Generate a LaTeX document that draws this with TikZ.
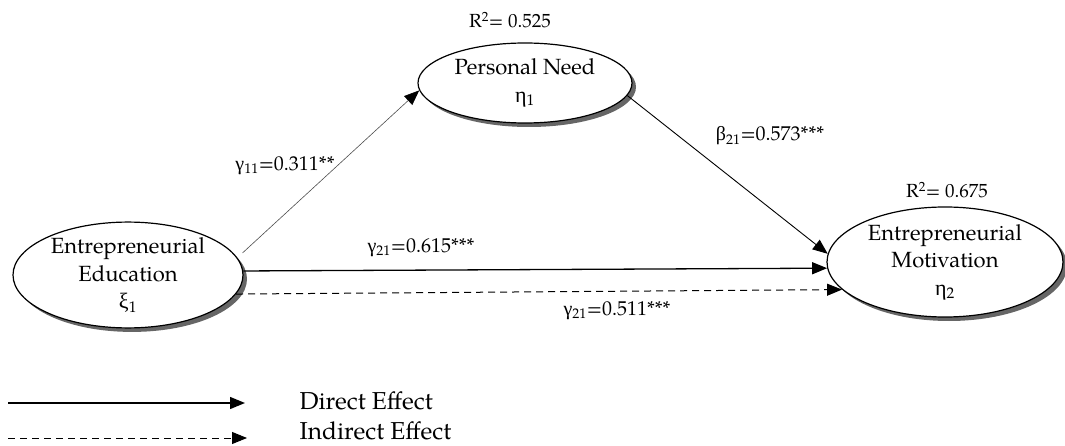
\documentclass[tikz,border=0pt]{standalone}
\usepackage{fontspec}
\setmainfont{TeX Gyre Pagella}
\newfontfamily\grk{Liberation Serif}
\usetikzlibrary{arrows.meta, shapes.geometric, shadows}

\begin{document}
\begin{tikzpicture}[x=1pt, y=-1pt,
latent/.style={draw, ellipse, line width=1.2pt, fill=white, inner sep=0pt, align=center, font=\fontsize{22}{27.5}\selectfont, drop shadow={shadow xshift=4pt, shadow yshift=-4pt, fill=black!60, opacity=1}},
arrow/.style={-{Triangle[length=15pt, width=12pt, color=black]}},
coef/.style={font=\fontsize{20}{24}\selectfont},
rsq/.style={font=\fontsize{19}{23}\selectfont},
legtext/.style={anchor=west, font=\fontsize{24.5}{28}\selectfont}
]
\useasboundingbox (0,0) rectangle (1065,446);

\node[latent, minimum width=230pt, minimum height=105pt] (edu) at (128,275) {Entrepreneurial\\Education\\{\grk ξ}\textsubscript{1}};
\node[latent, minimum width=214pt, minimum height=80pt] (need) at (525,83) {Personal Need\\{\grk η}\textsubscript{1}};
\node[latent, minimum width=236pt, minimum height=110pt] (mot) at (945,262) {Entrepreneurial\\Motivation\\{\grk η}\textsubscript{2}};

\node[rsq] (r1) at (510,20) {R\textsuperscript{2}= 0.525};
\node[rsq] (r2) at (947,190) {R\textsuperscript{2}= 0.675};

\draw[arrow, line width=0.6pt, black!70, shorten <=7pt] (edu.9) -- (need.184);
\draw[arrow, line width=0.9pt] (need.-7) -- (mot.176);
\draw[arrow, line width=1.3pt] (edu.2) -- (mot.183);
\draw[arrow, line width=1pt, dash pattern=on 7pt off 5pt] (edu.-10) -- (mot.195);

\node[coef] (g11) at (285,166) {{\grk γ}\textsubscript{11}=0.311**};
\node[coef] (b21) at (770,136) {{\grk β}\textsubscript{21}=0.573***};
\node[coef] (g21a) at (421,248) {{\grk γ}\textsubscript{21}=0.615***};
\node[coef] (g21b) at (617,311) {{\grk γ}\textsubscript{21}=0.511***};

\coordinate (d0) at (8,403);
\coordinate (d1) at (245,403);
\coordinate (i0) at (8,438);
\coordinate (i1) at (247,438);
\draw[arrow, line width=1.3pt] (d0) -- (d1);
\draw[arrow, line width=1pt, dash pattern=on 7pt off 5pt] (i0) -- (i1);
\node[legtext] (direct) at (296,401) {Direct Effect};
\node[legtext] (indirect) at (296,431) {Indirect Effect};
\end{tikzpicture}
\end{document}
